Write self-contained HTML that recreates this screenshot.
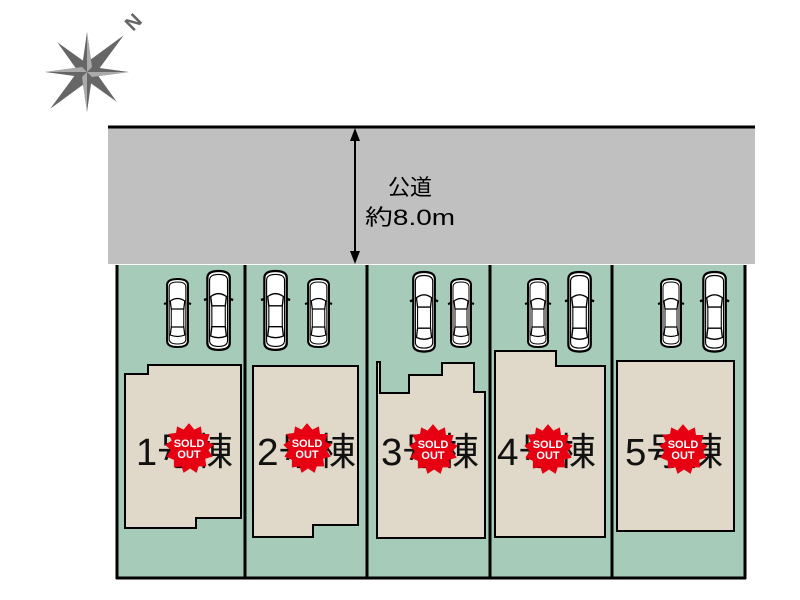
<!DOCTYPE html>
<html><head><meta charset="utf-8"><style>
html,body{margin:0;padding:0;background:#fff;}
svg{display:block;}
text{font-family:"Liberation Sans","Noto Sans CJK JP",sans-serif;}
</style></head><body>
<svg width="800" height="600" viewBox="0 0 800 600" xmlns="http://www.w3.org/2000/svg">
<defs>
<g id="car">
  <path d="M3,6 Q3,0 13,0 Q23,0 23,6 L23,62 Q23,68 13,68 Q3,68 3,62 Z" fill="#fff" stroke="#000" stroke-width="2"/>
  <path d="M5,8 Q5,3 13,3 Q21,3 21,8 L21,60 Q21,65 13,65 Q5,65 5,60 Z" fill="none" stroke="#000" stroke-width="1"/>
  <path d="M6,22 Q13,17 20,22 L19,30 L7,30 Z" fill="#fff" stroke="#000" stroke-width="1.2"/>
  <path d="M7,48 L19,48 L20,56 Q13,59 6,56 Z" fill="#fff" stroke="#000" stroke-width="1.2"/>
  <line x1="7" y1="30" x2="7" y2="48" stroke="#000" stroke-width="1"/>
  <line x1="19" y1="30" x2="19" y2="48" stroke="#000" stroke-width="1"/>
  <path d="M3,24 L0,25 M23,24 L26,25" stroke="#000" stroke-width="2"/>
</g>
<g id="sold">
  <polygon fill="#e60012" transform="scale(1.08)" points="0,-23 5,-17 11,-20 12,-13 19,-13 17,-6 23,-3 18,2 22,8 15,10 16,17 9,17 7,23 1,19 -5,23 -7,17 -14,18 -14,11 -21,8 -17,2 -22,-3 -16,-7 -19,-13 -12,-14 -11,-20 -5,-17"/>
  <text x="0" y="-1" font-size="11" font-weight="bold" fill="#fff" text-anchor="middle">SOLD</text>
  <text x="0" y="10" font-size="11" font-weight="bold" fill="#fff" text-anchor="middle">OUT</text>
</g>
</defs>

<!-- compass -->
<g transform="translate(87,72)" fill="#666">
  <polygon points="0,-40 5,-5 0,0 -5,-5"/>
  <polygon points="0,40 5,5 0,0 -5,5"/>
  <polygon points="-42,0 -5,-5 0,0 -5,5"/>
  <polygon points="42,0 5,-5 0,0 5,5"/>
  <g transform="rotate(45)">
    <polygon points="0,-52 7,-6 0,0 -7,-6"/>
    <polygon points="0,52 7,6 0,0 -7,6"/>
    <polygon points="-42,0 -6,-6 0,0 -6,6"/>
    <polygon points="42,0 6,-6 0,0 6,6"/>
  </g>
  <polygon points="0,-40 5,-5 0,0" fill="#aaa"/>
  <polygon points="42,0 5,5 0,0" fill="#aaa"/>
  <polygon points="0,40 -5,5 0,0" fill="#aaa"/>
  <polygon points="-42,0 -5,-5 0,0" fill="#aaa"/>
</g>
<text x="0" y="0" font-size="20" font-weight="bold" fill="#666" transform="translate(133,32) rotate(-45)">N</text>

<!-- road -->
<rect x="108" y="127" width="647" height="137" fill="#c0c0c0"/>
<line x1="108" y1="127" x2="755" y2="127" stroke="#000" stroke-width="3"/>
<line x1="355" y1="136" x2="355" y2="256" stroke="#000" stroke-width="2"/>
<polygon points="355,128 350,141 360,141" fill="#000"/>
<polygon points="355,264 350,251 360,251" fill="#000"/>
<text x="410" y="195" font-size="22" text-anchor="middle" fill="#000">公道</text>
<text x="410" y="225" font-size="22" text-anchor="middle" fill="#000" textLength="90" lengthAdjust="spacingAndGlyphs">約8.0m</text>

<!-- lots -->
<rect x="117" y="265" width="628" height="313" fill="#a6cbb9"/>
<g stroke="#000" stroke-width="3" fill="none">
  <line x1="117" y1="265" x2="117" y2="579"/>
  <line x1="745" y1="265" x2="745" y2="579"/>
  <line x1="116" y1="578" x2="746" y2="578"/>
  <line x1="245" y1="265" x2="245" y2="578"/>
  <line x1="367" y1="265" x2="367" y2="578"/>
  <line x1="490" y1="265" x2="490" y2="578"/>
  <line x1="612" y1="265" x2="612" y2="578"/>
</g>

<!-- houses -->
<g fill="#e0d8c8" stroke="#000" stroke-width="2">
  <polygon points="125,374 148,374 148,365 241,365 241,518 196,518 196,528 125,528"/>
  <polygon points="253,366 358,366 358,525 313,525 313,537 253,537"/>
  <polygon points="377,362 380,362 380,393 409,393 409,375 442,375 442,363 474,363 474,392 485,392 485,538 377,538"/>
  <polygon points="495,351 556,351 556,366 605,366 605,537 495,537"/>
  <rect x="617" y="361" width="117" height="170"/>
</g>

<!-- cars -->
<use href="#car" transform="translate(164,279) scale(1.04,1)"/>
<use href="#car" transform="translate(204,271) scale(1.12,1.16)"/>
<use href="#car" transform="translate(261,271) scale(1.12,1.16)"/>
<use href="#car" transform="translate(305,279) scale(1.04,1)"/>
<use href="#car" transform="translate(410,272) scale(1.08,1.17)"/>
<use href="#car" transform="translate(448,279) scale(1.0,1)"/>
<use href="#car" transform="translate(525,279) scale(1.0,1)"/>
<use href="#car" transform="translate(565,272) scale(1.12,1.17)"/>
<use href="#car" transform="translate(658,279) scale(1.0,1)"/>
<use href="#car" transform="translate(700,272) scale(1.12,1.17)"/>

<!-- labels -->
<g font-size="38" fill="#111">
  <text x="136" y="465" textLength="97" lengthAdjust="spacingAndGlyphs">1号棟</text>
  <text x="257" y="465" textLength="99" lengthAdjust="spacingAndGlyphs">2号棟</text>
  <text x="381" y="465" textLength="98" lengthAdjust="spacingAndGlyphs">3号棟</text>
  <text x="497" y="465" textLength="99" lengthAdjust="spacingAndGlyphs">4号棟</text>
  <text x="625" y="465" textLength="98" lengthAdjust="spacingAndGlyphs">5号棟</text>
</g>
<use href="#sold" transform="translate(189,448)"/>
<use href="#sold" transform="translate(307,448)"/>
<use href="#sold" transform="translate(433,449)"/>
<use href="#sold" transform="translate(548,449)"/>
<use href="#sold" transform="translate(683,449)"/>
</svg>
</body></html>
